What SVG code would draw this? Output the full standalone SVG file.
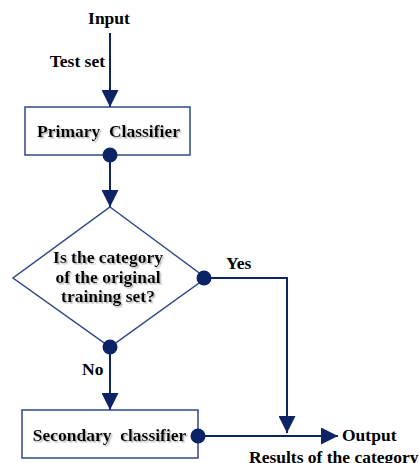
<svg xmlns="http://www.w3.org/2000/svg" width="419" height="463" viewBox="0 0 419 463" font-family="Liberation Serif, serif">
<defs>
<style>
text{font-weight:bold;font-size:17.5px;fill:#000}
.sh{filter:url(#shadow)}
.box{fill:#fff;stroke:#2e4a86;stroke-width:1.5}
.ln{fill:none;stroke:#0c2466;stroke-width:2}
.dot{fill:#0c2466}
</style>
<filter id="shadow" x="-10%" y="-30%" width="120%" height="160%">
<feDropShadow dx="1.5" dy="1.5" stdDeviation="0.6" flood-color="#999" flood-opacity="0.7"/>
</filter>
<marker id="ahb" viewBox="0 0 10 10" refX="10" refY="5" markerWidth="17" markerHeight="17" markerUnits="userSpaceOnUse" orient="auto">
<path d="M0,0 L10,5 L0,10 Z" fill="#0c2466"/>
</marker>
</defs>
<g id="connectors">
<line class="ln" x1="110" y1="33" x2="110" y2="107" marker-end="url(#ahb)"/>
<line class="ln" x1="110" y1="155" x2="110" y2="207" marker-end="url(#ahb)"/>
<polyline class="ln" points="204,278 287,278 287,433" marker-end="url(#ahb)"/>
<line class="ln" x1="110" y1="347" x2="110" y2="410" marker-end="url(#ahb)"/>
<line class="ln" x1="198" y1="436" x2="338" y2="436" marker-end="url(#ahb)"/>
</g>
<g id="input"><text x="109" y="24" text-anchor="middle">Input</text></g>
<g id="testset"><text x="105" y="67" text-anchor="end">Test set</text></g>
<g id="primary">
<rect class="box" x="25" y="107" width="165" height="48"/>
<text class="sh" x="108.5" y="137" text-anchor="middle" xml:space="preserve">Primary  Classifier</text>
<circle class="dot" cx="110" cy="155" r="7.5"/>
</g>
<g id="decision">
<polygon class="box" points="110,207 206,278 110,347 13,278"/>
<text class="sh" x="108" y="263" text-anchor="middle">Is the category</text>
<text class="sh" x="108" y="283" text-anchor="middle">of the original</text>
<text class="sh" x="108" y="302" text-anchor="middle">training set?</text>
<circle class="dot" cx="204" cy="278" r="7.5"/>
<circle class="dot" cx="110" cy="347" r="7.5"/>
</g>
<g id="yes"><text x="226" y="269">Yes</text></g>
<g id="no"><text x="82" y="375">No</text></g>
<g id="secondary">
<rect class="box" x="22" y="410" width="176" height="48"/>
<text class="sh" x="109.5" y="441" text-anchor="middle" xml:space="preserve">Secondary  classifier</text>
<circle class="dot" cx="198" cy="436" r="7.5"/>
</g>
<g id="output"><text x="342" y="441">Output</text></g>
<g id="results"><text x="249" y="463">Results of the category</text></g>
</svg>
